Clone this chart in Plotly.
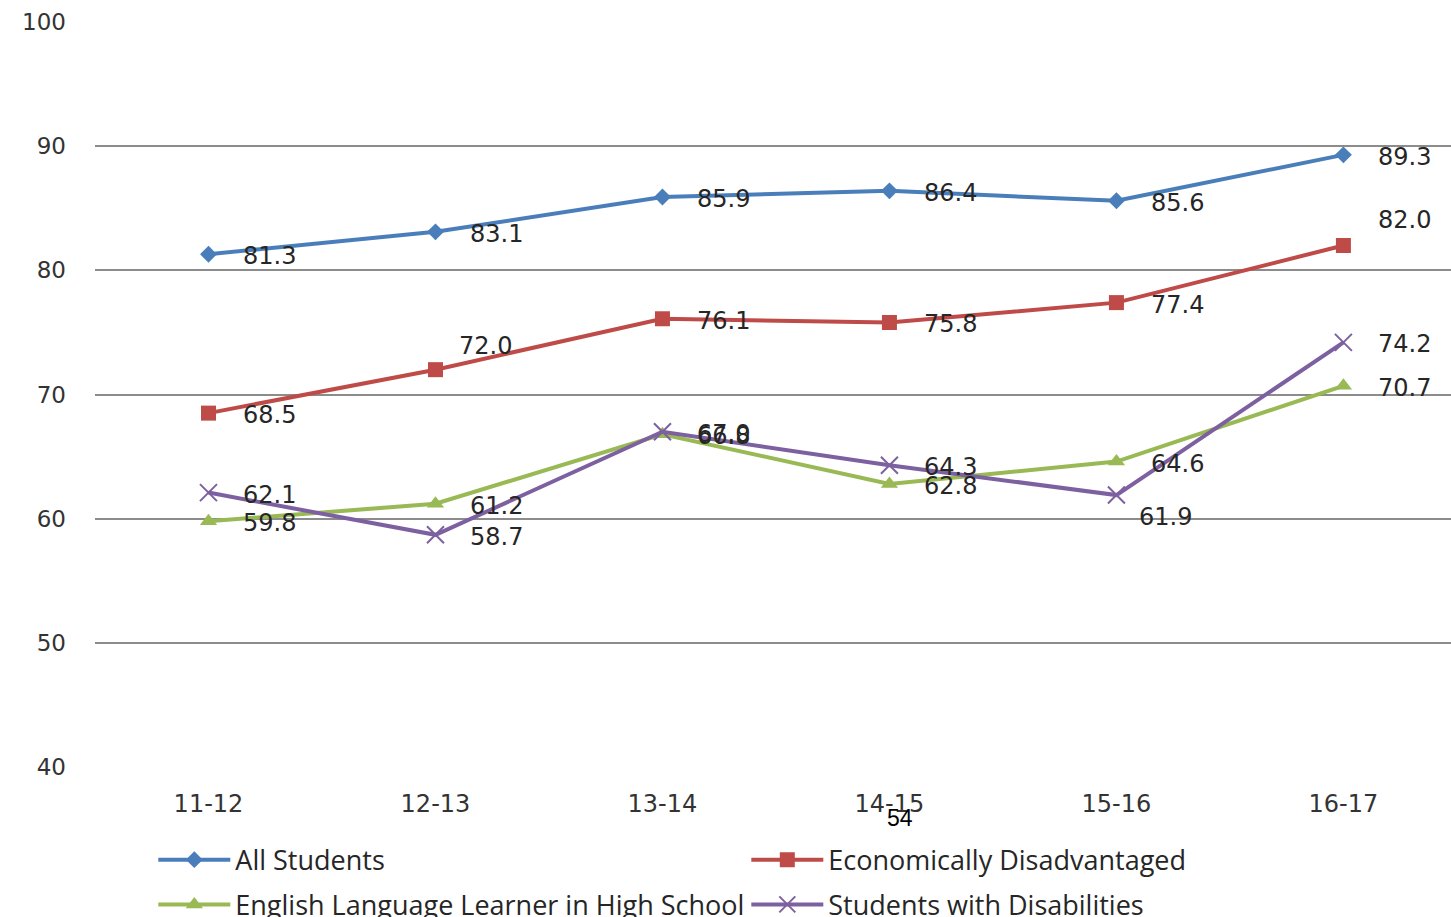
import plotly.graph_objects as go

# School years on the horizontal axis
years = ["11-12", "12-13", "13-14", "14-15", "15-16", "16-17"]

# Graduation rates (%) by student group
all_students = [81.3, 83.1, 85.9, 86.4, 85.6, 89.3]
econ_disadv = [68.5, 72.0, 76.1, 75.8, 77.4, 82.0]
ell_high_school = [59.8, 61.2, 66.8, 62.8, 64.6, 70.7]
disabilities = [62.1, 58.7, 67.0, 64.3, 61.9, 74.2]

y_ticks = [40, 50, 60, 70, 80, 90, 100]
page_number = "54"

# name, values, colour, marker symbol, marker size, legend row
series = [
    ("All Students", all_students, "#4A7EBB", "diamond", 13, "legend"),
    ("Economically Disadvantaged", econ_disadv, "#BE4B48", "square", 15, "legend"),
    ("English Language Learner in High School", ell_high_school, "#98B954", "triangle-up", 15, "legend2"),
    ("Students with Disabilities", disabilities, "#7D60A0", "x-thin", 17, "legend2"),
]

# Default label placement (right of the marker), with a few labels nudged
default_shift = (33, -2)
label_shift = {
    ("Economically Disadvantaged", 1): (22, 24),
    ("Economically Disadvantaged", 5): (33, 26),
    ("Students with Disabilities", 4): (21, -22),
}

WIDE = "'DejaVu Sans', Verdana, sans-serif"
LABEL_FONT = dict(family=WIDE, size=24, color="#262626")

fig = go.Figure()
annotations = []
for name, vals, color, symbol, msize, leg in series:
    marker = dict(symbol=symbol, size=msize, color=color)
    if symbol == "x-thin":
        marker["line"] = dict(color=color, width=2)
    fig.add_trace(go.Scatter(
        x=years, y=vals, name=name, mode="lines+markers",
        line=dict(color=color, width=4),
        marker=marker, legend=leg,
    ))
    for i, (yr, v) in enumerate(zip(years, vals)):
        dx, dy = label_shift.get((name, i), default_shift)
        annotations.append(dict(
            x=yr, y=v, text=f"{v:.1f}", showarrow=False,
            xanchor="left", yanchor="middle", xshift=dx, yshift=dy,
            font=LABEL_FONT,
        ))

annotations.append(dict(
    xref="paper", yref="paper", x=0.594, y=-0.069, text=page_number,
    showarrow=False, xanchor="center", yanchor="middle",
    font=dict(family="'Liberation Sans', Arial, sans-serif", size=23, color="#000000"),
))

legend_style = dict(
    orientation="h", xanchor="left", yanchor="middle",
    font=dict(family="'Open Sans', sans-serif", size=27, color="#262626"),
    entrywidth=506, entrywidthmode="pixels",
    itemwidth=72, traceorder="normal", bgcolor="rgba(0,0,0,0)",
)

fig.update_layout(
    width=1451, height=917,
    margin=dict(l=95, r=0, t=22, b=150, autoexpand=False),
    paper_bgcolor="white", plot_bgcolor="white",
    showlegend=True,
    legend=dict(legend_style, x=0.043, y=-0.125),
    legend2=dict(legend_style, x=0.043, y=-0.185),
    annotations=annotations,
    xaxis=dict(
        type="category", categoryorder="array", categoryarray=years,
        range=[-0.5, 5.474], showgrid=False, showline=False, ticks="",
        tickfont=dict(family=WIDE, size=24, color="#333333"),
        ticklabelstandoff=20, zeroline=False,
    ),
    yaxis=dict(
        range=[40, 100], tickvals=y_ticks, showgrid=True,
        gridcolor="#8C8C8C", gridwidth=1.5, showline=False, ticks="",
        tickfont=dict(family=WIDE, size=23, color="#333333"),
        ticklabelstandoff=28, zeroline=False,
    ),
)

fig.write_html("out.html")
